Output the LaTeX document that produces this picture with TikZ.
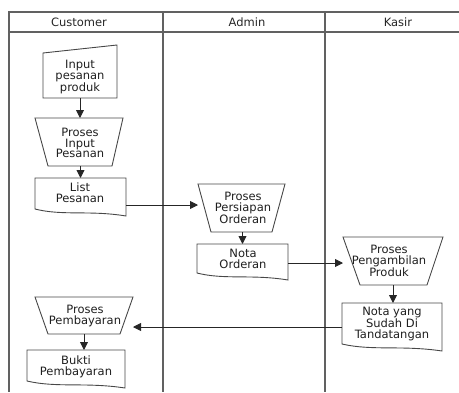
\documentclass[tikz,border=0pt]{standalone}
\usepackage{fontspec}
\setmainfont{DejaVu Sans}
\usetikzlibrary{arrows.meta,calc}
\tikzset{
  lane/.style={draw=black!62, line width=1.3pt},
  shp/.style={draw=black!72, line width=0.9pt},
  box/.style={rectangle, inner sep=0pt, outer sep=0pt, draw=none},
  txt/.style={align=center, inner sep=0pt, font=\fontsize{11.5}{10.8}\selectfont, text=black!88},
  hdr/.style={inner sep=0pt, font=\fontsize{11.5}{12}\selectfont, text=black!85},
  arr/.style={draw=black!85, line width=0.9pt, -{Triangle[length=8pt,width=8pt]}}
}
\newcommand\docshape[1]{\draw[shp] (#1.north west) -- (#1.north east) -- (#1.south east)
  .. controls ($(#1.south east)!0.4!(#1.south west)+(0pt,6pt)$) and ($(#1.south west)!0.3!(#1.south east)$)
  .. ([yshift=7pt]#1.south west) -- cycle;}
\newcommand\trapshape[3]{\draw[shp] (#1.north west) -- (#1.north east) -- ([xshift=-#3]#1.south east) -- ([xshift=#2]#1.south west) -- cycle;}
\begin{document}
\begin{tikzpicture}[x=1pt,y=-1pt]
\useasboundingbox (0,0) rectangle (459,392);
% swimlane table
\coordinate (tl) at (9,12);
\coordinate (tr) at (459,12);
\coordinate (hl) at (9,32);
\coordinate (hr) at (459,32);
\coordinate (bl) at (9,392);
\coordinate (d1t) at (163,12);
\coordinate (d1b) at (163,392);
\coordinate (d2t) at (325,12);
\coordinate (d2b) at (325,392);
\draw[lane] (tr) -- (tl) -- (bl);
\draw[lane] (hl) -- (hr);
\draw[lane] (d1t) -- (d1b);
\draw[lane] (d2t) -- (d2b);
\node[hdr] (h1) at (79,22) {Customer};
\node[hdr] (h2) at (247,22) {Admin};
\node[hdr] (h3) at (398,22) {Kasir};
% shape frames
\node[box, minimum width=74pt, minimum height=53pt] (inp) at (80,71.5) {};
\node[box, minimum width=88pt, minimum height=48pt] (pio) at (79,142) {};
\node[box, minimum width=91pt, minimum height=38pt] (lp) at (80.5,197) {};
\node[box, minimum width=87pt, minimum height=48pt] (ppo) at (241.5,208) {};
\node[box, minimum width=91pt, minimum height=36pt] (no) at (242.5,262) {};
\node[box, minimum width=100pt, minimum height=48pt] (ppr) at (393,261) {};
\node[box, minimum width=100pt, minimum height=48pt] (nys) at (392,327) {};
\node[box, minimum width=98pt, minimum height=37pt] (pp) at (84,315.5) {};
\node[box, minimum width=98pt, minimum height=38pt] (bp) at (76,369) {};
% outlines
\draw[shp] ([yshift=-8pt]inp.north west) -- (inp.north east) -- (inp.south east) -- (inp.south west) -- cycle;
\trapshape{pio}{13pt}{11pt}
\docshape{lp}
\trapshape{ppo}{13pt}{13pt}
\docshape{no}
\trapshape{ppr}{17pt}{16pt}
\docshape{nys}
\trapshape{pp}{13pt}{13pt}
\docshape{bp}
% texts
\node[txt] (inpt) at (80,77) {Input\\pesanan\\produk};
\node[txt] (piot) at (80,143) {Proses\\Input\\Pesanan};
\node[txt] (lpt) at (80,193) {List\\Pesanan};
\node[txt] (ppot) at (243,208) {Proses\\Persiapan\\Orderan};
\node[txt] (not) at (243,259) {Nota\\Orderan};
\node[txt] (pprt) at (389,261) {Proses\\Pengambilan\\Produk};
\node[txt] (nyst) at (392,324) {Nota yang\\Sudah Di\\Tandatangan};
\node[txt] (ppt) at (85,316) {Proses\\Pembayaran};
\node[txt] (bpt) at (76,367) {Bukti\\Pembayaran};
% connectors
\draw[arr] (inp.south) -- (inp.south |- pio.north);
\draw[arr] (lp.north |- pio.south) -- (lp.north);
\draw[arr] ([yshift=-8pt]lp.east) -- ([yshift=-8pt]lp.east -| ppo.west);
\draw[arr] ([xshift=1pt]ppo.south) -- ([xshift=1pt]ppo.south |- no.north);
\draw[arr] ([yshift=-1pt]no.east) -- ([yshift=-1pt]no.east -| ppr.west);
\draw[arr] (ppr.south) -- (ppr.south |- nys.north);
\draw[arr] (nys.west) -- (nys.west -| pp.east);
\draw[arr] (pp.south) -- (pp.south |- bp.north);
\end{tikzpicture}
\end{document}
